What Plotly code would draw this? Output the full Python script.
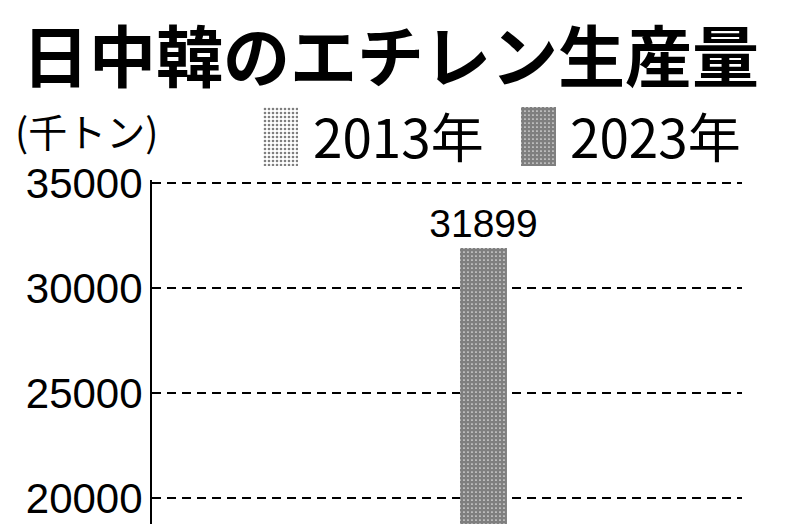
import plotly.graph_objects as go

# data
countries = ['日本', '中国', '韓国']
prod_2013 = [6600, 16600, 8400]
prod_2023 = [5000, 31899, 11000]
years = ['2013年', '2023年']
y_ticks = [20000, 25000, 30000, 35000]

W, H = 785, 524
OFF = 8  # the page body adds an 8px margin, so place things 8px up/left


def px_x(v):
    return (v - OFF) / W


def px_y(v):
    return 1 - (v - OFF) / H


pat_2013 = dict(shape='.', size=4, solidity=0.33, fgcolor='black', bgcolor='white')
pat_2023 = dict(shape='.', size=4, solidity=0.82, fgcolor='black', bgcolor='white')

label_font = dict(family='Liberation Sans', size=39, color='black')

fig = go.Figure()

fig.add_trace(go.Bar(
    x=countries, y=prod_2013, name=years[0],
    marker=dict(color='white', pattern=pat_2013, line=dict(width=0)),
    text=[str(v) for v in prod_2013], textposition='outside', constraintext='none',
    textfont=label_font, showlegend=False,
))
fig.add_trace(go.Bar(
    x=countries, y=prod_2023, name=years[1],
    marker=dict(color='white', pattern=pat_2023, line=dict(width=0)),
    text=[str(v) for v in prod_2023], textposition='outside', constraintext='none',
    textfont=label_font, showlegend=False,
))

# legend swatches as tall patterned boxes on small helper axes
fig.add_trace(go.Bar(x=[years[0]], y=[1], width=[1], xaxis='x2', yaxis='y2',
                     marker=dict(color='white', pattern=pat_2013, line=dict(width=0)),
                     showlegend=False, hoverinfo='skip'))
fig.add_trace(go.Bar(x=[years[1]], y=[1], width=[1], xaxis='x3', yaxis='y3',
                     marker=dict(color='white', pattern=pat_2023, line=dict(width=0)),
                     showlegend=False, hoverinfo='skip'))

hidden = dict(visible=False, fixedrange=True)
px_per_unit = 105 / 5000

fig.update_layout(
    width=W, height=H,
    margin=dict(l=0, r=0, t=0, b=0),
    paper_bgcolor='white', plot_bgcolor='white',
    barmode='group', bargap=0.39, bargroupgap=0.217,
    xaxis=dict(
        domain=[px_x(152), px_x(742)],
        range=[-0.533, 2.467],
        showgrid=False, showline=False, ticks='',
        showticklabels=False, automargin=False,
    ),
    yaxis=dict(
        domain=[px_y(524), px_y(180)],
        range=[35000 - 341 / px_per_unit, 35000 + 3 / px_per_unit],
        tickvals=y_ticks, ticktext=[str(v) for v in y_ticks],
        tickfont=dict(family='Liberation Sans', size=42, color='black'),
        showline=True, linecolor='black', linewidth=2,
        ticks='inside', ticklen=9, tickwidth=2, tickcolor='black',
        ticklabelstandoff=-1,
        showgrid=True, gridcolor='black', gridwidth=2, griddash='9px,6px',
        zeroline=False, automargin=False,
    ),
    xaxis2=dict(domain=[px_x(263), px_x(298)], range=[-0.5, 0.5], anchor='y2', **hidden),
    yaxis2=dict(domain=[px_y(166), px_y(107)], range=[0, 1], anchor='x2', **hidden),
    xaxis3=dict(domain=[px_x(521), px_x(556)], range=[-0.5, 0.5], anchor='y3', **hidden),
    yaxis3=dict(domain=[px_y(166), px_y(107)], range=[0, 1], anchor='x3', **hidden),
    font=dict(family='Noto Sans CJK JP', color='black'),
)

fig.add_annotation(
    text='<b>日中韓のエチレン生産量</b>', xref='paper', yref='paper',
    x=px_x(390), y=px_y(52), xanchor='center', yanchor='middle', showarrow=False,
    font=dict(family='Noto Sans CJK JP', size=67, color='black'),
)
fig.add_annotation(
    text='(千トン)', xref='paper', yref='paper',
    x=px_x(13), y=px_y(130), xanchor='left', yanchor='middle', showarrow=False,
    font=dict(family='Noto Sans CJK JP', size=39, color='black'),
)
for label, left in zip(years, [311, 568]):
    fig.add_annotation(
        text=label, xref='paper', yref='paper',
        x=px_x(left), y=px_y(135), xanchor='left', yanchor='middle', showarrow=False,
        font=dict(family='Noto Sans CJK JP', size=53, color='black'),
    )

fig.write_html('out.html')
